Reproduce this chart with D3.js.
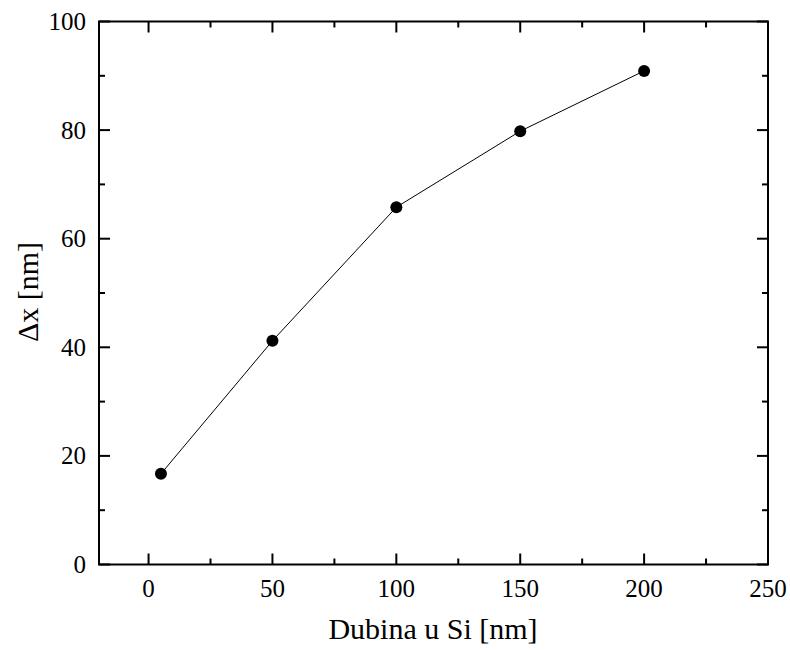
<!DOCTYPE html>
<html><head><meta charset="utf-8">
<script src="https://cdn.jsdelivr.net/npm/d3@7"></script>
<style>body{margin:0;background:#fff}svg{display:block}</style>
</head><body>
<script>
const depths = [5, 50, 100, 150, 200];
const deltaX = [16.7, 41.2, 65.8, 79.8, 90.9];
const xTicks = [0, 50, 100, 150, 200, 250];
const yTicks = [0, 20, 40, 60, 80, 100];
const xMinor = [-25, 25, 75, 125, 175, 225];
const yMinor = [10, 30, 50, 70, 90];

const FONT = "'Liberation Serif', 'Times New Roman', Times, 'DejaVu Serif', serif";
const W = 790, H = 650;
const svg = d3.select("body").append("svg").attr("width", W).attr("height", H)
  .style("font-family", FONT);
const x = d3.scaleLinear().domain([-20, 250]).range([99, 768]);
const y = d3.scaleLinear().domain([0, 100]).range([564.5, 21.5]);
const L = 99, R = 768, T = 21.5, B = 564.5;

const g = svg.append("g");
const tick = (x1,y1,x2,y2)=>g.append("line").attr("x1",x1).attr("y1",y1).attr("x2",x2).attr("y2",y2).attr("stroke","#000").attr("stroke-width",2);
xTicks.forEach(v=>{tick(x(v),B,x(v),B-11);tick(x(v),T,x(v),T+11);});
xMinor.filter(v=>v>-20&&v<250).forEach(v=>{tick(x(v),B,x(v),B-6);tick(x(v),T,x(v),T+6);});
yTicks.forEach(v=>{tick(L,y(v),L+11,y(v));tick(R,y(v),R-11,y(v));});
yMinor.forEach(v=>{tick(L,y(v),L+6,y(v));tick(R,y(v),R-6,y(v));});
g.append("rect").attr("x",L).attr("y",T).attr("width",R-L).attr("height",B-T).attr("fill","none").attr("stroke","#000").attr("stroke-width",2);

g.selectAll(".xl").data(xTicks).enter().append("text").attr("font-family",FONT).attr("x",d=>x(d)).attr("y",597).attr("text-anchor","middle").attr("font-size",25).text(d=>d);
g.selectAll(".yl").data(yTicks).enter().append("text").attr("font-family",FONT).attr("x",86).attr("y",d=>y(d)+8.5).attr("text-anchor","end").attr("font-size",25).text(d=>d);

svg.append("text").attr("font-family",FONT).attr("x",433).attr("y",639).attr("text-anchor","middle").attr("font-size",30).text("Dubina u Si [nm]");
svg.append("text").attr("font-family",FONT).attr("transform","translate(38,292) rotate(-90)").attr("text-anchor","middle").attr("font-size",30).text("Δx [nm]");

const pts = depths.map((d,i)=>[d, deltaX[i]]);
svg.append("path").datum(pts).attr("d", d3.line().x(d=>x(d[0])).y(d=>y(d[1]))).attr("fill","none").attr("stroke","#000").attr("stroke-width",1);
svg.selectAll(".pt").data(pts).enter().append("circle").attr("cx",d=>x(d[0])).attr("cy",d=>y(d[1])).attr("r",6).attr("fill","#000");
</script>
</body></html>
